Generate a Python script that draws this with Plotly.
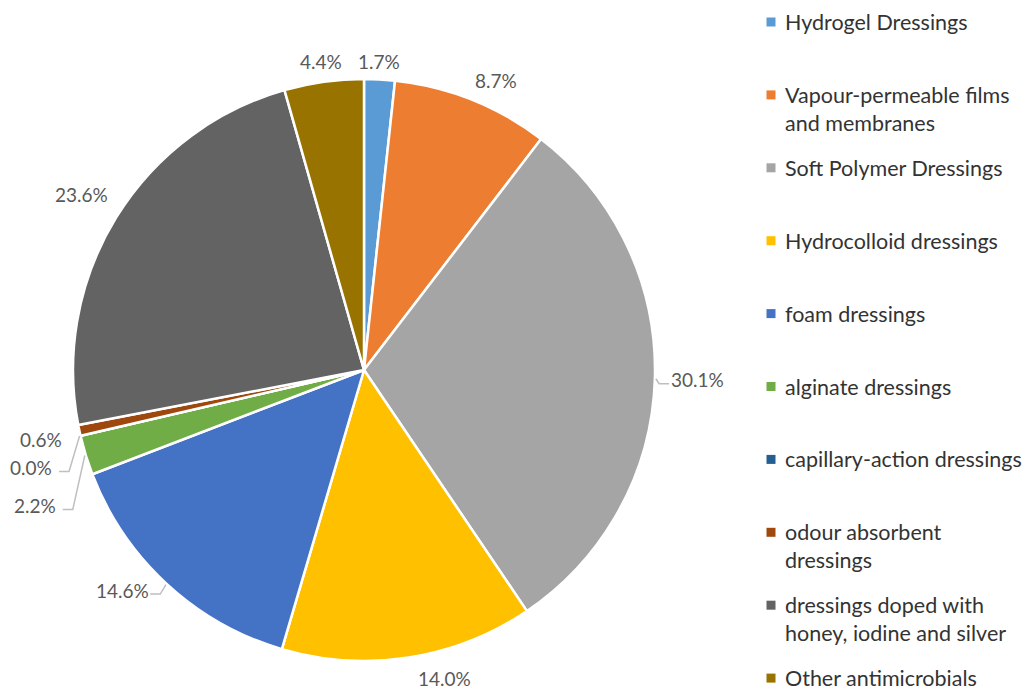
import math
import plotly.graph_objects as go

# Share of wound-dressing types (%)
categories = [
    "Hydrogel Dressings",
    "Vapour-permeable films and membranes",
    "Soft Polymer Dressings",
    "Hydrocolloid dressings",
    "foam dressings",
    "alginate dressings",
    "capillary-action dressings",
    "odour absorbent dressings",
    "dressings doped with honey, iodine and silver",
    "Other antimicrobials",
]
shares = [1.7, 8.7, 30.1, 14.0, 14.6, 2.2, 0.0, 0.6, 23.6, 4.4]

# legend text split into display lines
legend_lines = [
    ["Hydrogel Dressings"],
    ["Vapour-permeable films", "and membranes"],
    ["Soft Polymer Dressings"],
    ["Hydrocolloid dressings"],
    ["foam dressings"],
    ["alginate dressings"],
    ["capillary-action dressings"],
    ["odour absorbent", "dressings"],
    ["dressings doped with", "honey, iodine and silver"],
    ["Other antimicrobials"],
]

colors = ["#5B9BD5", "#ED7D31", "#A5A5A5", "#FFC000", "#4472C4",
          "#70AD47", "#255E91", "#9E480E", "#636363", "#997300"]

W, H = 1032, 691
CX, CY, R = 364, 370, 291
FONT = "Lato"


def px(x):
    return x / W


def py(y):
    return 1 - y / H


fig = go.Figure(go.Pie(
    labels=categories,
    values=shares,
    sort=False,
    direction="clockwise",
    rotation=0,
    textinfo="none",
    showlegend=False,
    marker=dict(colors=colors, line=dict(color="white", width=2.5)),
    domain=dict(x=[px(CX - R), px(CX + R)], y=[py(CY + R), py(CY - R)]),
))

# ---- percentage labels placed outside the pie along each slice's mid-angle
label_shift = {
    "Hydrogel Dressings": (-2, 0),
    "Vapour-permeable films and membranes": (14, 4),
    "Soft Polymer Dressings": (9, 0),
    "Hydrocolloid dressings": (33, 0),
    "foam dressings": (-23, -17),
    "alginate dressings": (-18, 4),
    "capillary-action dressings": (-16, -2),
    "odour absorbent dressings": (-5, 2),
    "dressings doped with honey, iodine and silver": (-6, -5),
}
leader_names = {"Soft Polymer Dressings", "foam dressings",
                "alginate dressings", "capillary-action dressings"}

total = sum(shares)
hw, hh, gap = 25, 9, 8
labels = []
cum = 0.0
for name, v in zip(categories, shares):
    mid = (cum + v / 2) / total * 2 * math.pi
    cum += v
    s, c = math.sin(mid), math.cos(mid)
    d = R + gap + abs(s) * hw + abs(c) * hh
    labels.append(dict(name=name, text=f"{v:.1f}%", s=s, c=c,
                       ex=CX + (R + 1) * s, ey=CY - (R + 1) * c,
                       x=CX + d * s, y=CY - d * c))

# keep stacked labels on the left side from overlapping
left = sorted([l for l in labels if l["s"] < 0], key=lambda l: l["y"])
for prev, cur in zip(left, left[1:]):
    if cur["y"] - prev["y"] < 32:
        cur["y"] = prev["y"] + 32

annotations = []
shapes = []
for l in labels:
    dx, dy = label_shift.get(l["name"], (0, 0))
    x, y = l["x"] + dx, l["y"] + dy
    annotations.append(dict(
        x=px(x), y=py(y), xref="paper", yref="paper", text=l["text"],
        showarrow=False, xanchor="center", yanchor="middle",
        font=dict(family=FONT, size=19, color="#595959")))
    if l["name"] in leader_names:
        side = 1 if l["s"] < 0 else -1
        x0 = x + side * (hw + 3)
        x1 = x0 + side * 10
        path = (f"M {px(x0)},{py(y + 4)} L {px(x1)},{py(y + 4)} "
                f"L {px(l['ex'])},{py(l['ey'])}")
        shapes.append(dict(type="path", path=path, xref="paper", yref="paper",
                           line=dict(color="#BFBFBF", width=1.5)))

# ---- legend drawn at the right-hand side
LX, TOP, STEP, LINE_H = 771, 22, 72.9, 28
for i, (lines, col) in enumerate(zip(legend_lines, colors)):
    y0 = TOP + i * STEP
    shapes.append(dict(type="rect", xref="paper", yref="paper",
                       x0=px(LX - 4.5), x1=px(LX + 4.5),
                       y0=py(y0 + 4.5), y1=py(y0 - 4.5),
                       fillcolor=col, line=dict(width=0)))
    for k, t in enumerate(lines):
        annotations.append(dict(
            x=px(LX + 12), y=py(y0 + k * LINE_H), xref="paper", yref="paper",
            text=t, showarrow=False, xanchor="left", yanchor="middle",
            font=dict(family=FONT, size=21.5, color="#333333")))

fig.update_layout(
    width=W, height=H,
    margin=dict(l=0, r=0, t=0, b=0),
    paper_bgcolor="white", plot_bgcolor="white",
    annotations=annotations, shapes=shapes,
)

fig.write_html("out.html")
